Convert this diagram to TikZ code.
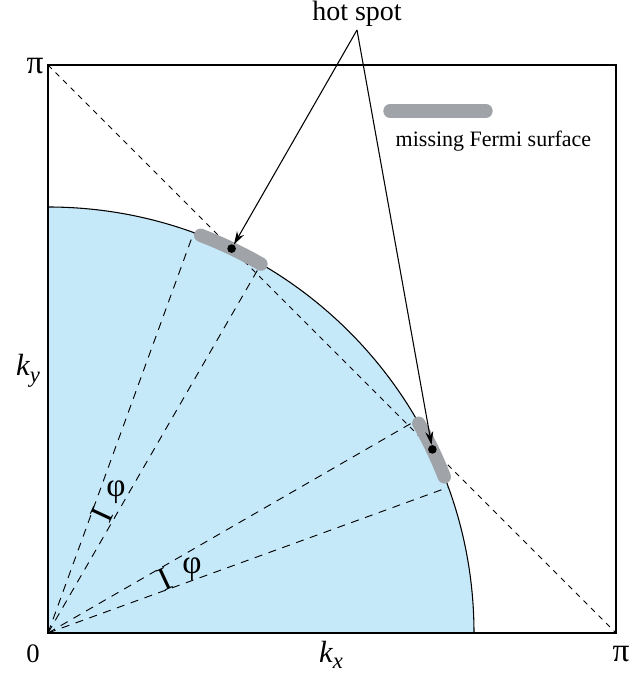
\documentclass[tikz,border=0pt]{standalone}
\usepackage{fontspec}
\setmainfont{Liberation Serif}
\usetikzlibrary{arrows.meta, positioning, calc}
\definecolor{fsblue}{RGB}{198,233,249}
\definecolor{fsgray}{RGB}{160,163,168}

\begin{document}
\begin{tikzpicture}[x=0.75pt, y=0.75pt, >={Stealth[length=10pt, width=6pt]},
  ray/.style={dash pattern=on 6pt off 5pt, line width=0.7pt},
  gapbar/.style={line width=10pt, fsgray, line cap=round},
  hotdot/.style={circle, fill=black, inner sep=0pt, minimum size=6.5pt},
  axlbl/.style={font=\fontsize{20}{20}\selectfont},
  anglbl/.style={font=\fontsize{25}{25}\selectfont, inner sep=0pt}]
  \useasboundingbox (-48,-46) rectangle (584,633);

  % Fermi sea
  \fill[fsblue] (0,0) -- (426,0) arc[start angle=0, end angle=90, radius=426] -- cycle;
  \draw[line width=0.8pt] (426,0) arc[start angle=0, end angle=90, radius=426];
  \draw[line width=1pt] (0,0) rectangle (568,568);
  \draw[dash pattern=on 4pt off 4pt, line width=0.7pt] (0,568) -- (568,0);

  % rays and angles
  \coordinate (O) at (0,0);
  \foreach \a in {70,60,30,20}
    \draw[ray] (O) -- (\a:426);

  % missing parts of the Fermi surface
  \draw[gapbar] (69:426) arc[start angle=69, end angle=60, radius=426];
  \draw[gapbar] (29.5:426) arc[start angle=29.5, end angle=21.5, radius=426];
  \node[hotdot] (hotA) at (64.47:426) {};
  \node[hotdot] (hotB) at (25.53:426) {};

  \node[anglbl, rotate=65] (barA) at (54,118) {I};
  \node[anglbl] (phiA) at (68,141) {φ};
  \node[anglbl, rotate=25] (barB) at (117,54) {I};
  \node[anglbl] (phiB) at (144,64) {φ};

  % legend
  \draw[gapbar] (342,522) -- (438,522);
  \node[font=\fontsize{16.5}{16.5}\selectfont, anchor=base west] (legend) at (343,486)
    {missing Fermi surface};

  % hot spot label
  \node[font=\fontsize{21}{21}\selectfont, anchor=base] (hotlbl) at (309,612) {hot spot};
  \coordinate (apex) at ($(hotlbl.base)+(0,-9)$);
  \draw[->, line width=0.8pt] (apex) -- (hotA);
  \draw[->, line width=0.8pt] (apex) -- (hotB);

  % axes
  \node[axlbl, font=\fontsize{25}{25}\selectfont] (pitop) at (-13,567) {π};
  \node[axlbl, font=\fontsize{25}{25}\selectfont] (piright) at (573,-21) {π};
  \node[axlbl] (zero) at (-15,-21) {0};
  \node[axlbl] (kx) at (283,-22)
    {\fontsize{23}{23}\selectfont\textit{k\lower5pt\hbox{\fontsize{17}{17}\selectfont x}}};
  \node[axlbl] (ky) at (-20,262)
    {\fontsize{23}{23}\selectfont\textit{k\lower5pt\hbox{\fontsize{17}{17}\selectfont y}}};
\end{tikzpicture}
\end{document}
